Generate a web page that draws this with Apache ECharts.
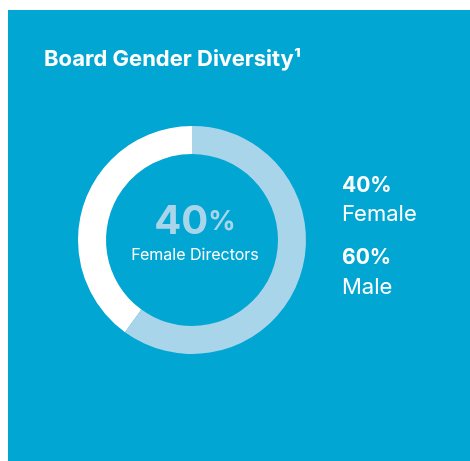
<!DOCTYPE html>
<html>
<head>
<meta charset="utf-8">
<script src="https://cdn.jsdelivr.net/npm/echarts@6/dist/echarts.min.js"></script>
<style>
  html, body { margin: 0; padding: 0; background: #fff; }
  #chart { width: 470px; height: 461px; }
</style>
</head>
<body>
<div id="chart"></div>
<script>
// data
const genders = ['Female', 'Male'];
const shares = [40, 60];
const sliceColors = ['#ffffff', '#a9d5ea'];

const chart = echarts.init(document.getElementById('chart'));

const pct = {};
genders.forEach((g, i) => { pct[g] = shares[i]; });

const option = {
    backgroundColor: '#ffffff',
    animation: false,
    graphic: [
        {
            type: 'rect',
            z: -10,
            silent: true,
            shape: { x: 8, y: 10, width: 462, height: 451 },
            style: { fill: '#02a6d3' }
        }
    ],
    title: [
        {
            text: 'Board Gender Diversity¹',
            left: 44,
            top: 48,
            padding: 0,
            textStyle: {
                color: '#ffffff',
                fontFamily: 'Inter',
                fontWeight: 'bold',
                fontSize: 22
            }
        },
        {
            text: '{n|' + pct['Female'] + '}{p|%}\n{s|Female Directors}',
            left: 195,
            top: 199,
            padding: 0,
            textAlign: 'center',
            textStyle: {
                fontWeight: 'normal',
                rich: {
                    n: { color: '#a9d5ea', fontFamily: 'Inter', fontWeight: 'bold', fontSize: 40, lineHeight: 46 },
                    p: { color: '#a9d5ea', fontFamily: 'Inter', fontWeight: 'bold', fontSize: 27, lineHeight: 46 },
                    s: { color: '#ffffff', fontFamily: 'Inter', fontWeight: 'normal', fontSize: 16, lineHeight: 20, align: 'center' }
                }
            }
        }
    ],
    legend: {
        orient: 'vertical',
        left: 337,
        top: 175,
        padding: 0,
        icon: 'none',
        itemWidth: 0,
        itemGap: 22,
        selectedMode: false,
        data: genders,
        formatter: name => '{v|' + pct[name] + '%}\n{n|' + name + '}',
        textStyle: {
            color: '#ffffff',
            padding: 0,
            rich: {
                v: { color: '#ffffff', fontFamily: 'Inter', fontWeight: 'bold', fontSize: 21, lineHeight: 28 },
                n: { color: '#ffffff', fontFamily: 'Inter', fontSize: 22, lineHeight: 30 }
            }
        }
    },
    series: [
        {
            type: 'pie',
            center: [192, 240],
            radius: [86, 114],
            startAngle: 90,
            clockwise: false,
            silent: true,
            label: { show: false },
            labelLine: { show: false },
            emphasis: { scale: false },
            data: genders.map((g, i) => ({
                name: g,
                value: shares[i],
                itemStyle: { color: sliceColors[i] }
            }))
        }
    ]
};

chart.setOption(option);
</script>
</body>
</html>
